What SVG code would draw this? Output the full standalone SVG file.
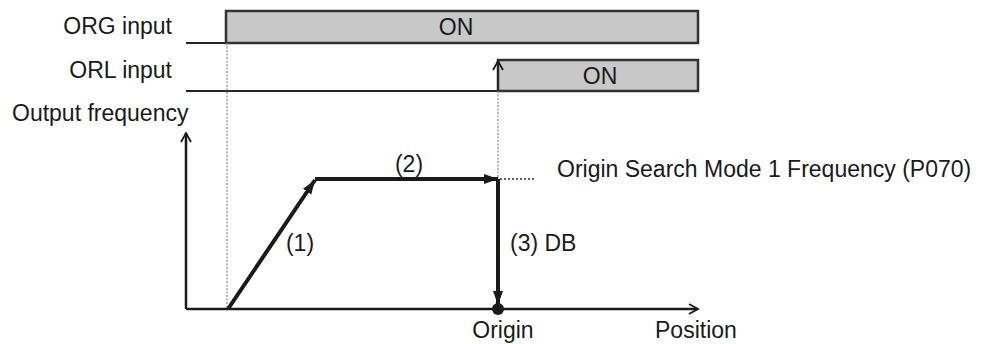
<svg xmlns="http://www.w3.org/2000/svg" width="990" height="344" viewBox="0 0 990 344">
<style>
text{font-family:"Liberation Sans",Arial,sans-serif;font-size:23px;fill:#1a1a1a}
.sig{fill:none;stroke:#262626;stroke-width:2}
.box{fill:#c8c8c8;stroke:#333;stroke-width:2.5}
.guide{fill:none;stroke:#8a8a8a;stroke-width:1.2;stroke-dasharray:2 1.5}
.guide2{fill:none;stroke:#333;stroke-width:1.5;stroke-dasharray:2 2}
.axis{fill:none;stroke:#1a1a1a;stroke-width:2.5}
.thick{fill:none;stroke:#1a1a1a;stroke-width:4}
</style>
<defs>
<marker id="open" markerWidth="12" markerHeight="12" refX="10" refY="6" orient="auto" markerUnits="userSpaceOnUse"><path d="M1,1 L10,6 L1,11" fill="none" stroke="#1a1a1a" stroke-width="1.8"/></marker>
<marker id="fill" markerWidth="16" markerHeight="12" refX="14" refY="6" orient="auto" markerUnits="userSpaceOnUse"><path d="M0,1 L14,6 L0,11 Z" fill="#1a1a1a"/></marker>
</defs>
<g id="labels">
<text x="172" y="34" text-anchor="end">ORG input</text>
<text x="172" y="78" text-anchor="end">ORL input</text>
<text x="12" y="121">Output frequency</text>
</g>
<g id="org-signal">
<path class="sig" d="M186,43 H226"/>
<rect class="box" x="226" y="11" width="472" height="32"/>
<text x="456" y="35" text-anchor="middle">ON</text>
</g>
<g id="orl-signal">
<path class="sig" d="M186,91 H498"/>
<rect class="box" x="498" y="60" width="200" height="31"/>
<text x="600" y="84" text-anchor="middle">ON</text>
</g>
<g id="connectors">
<path class="guide" d="M227,43 V309"/>
<path class="guide" d="M498,91 V179"/>
<path class="sig" d="M498,91 V61" marker-end="url(#open)"/>
<path class="axis" d="M186,309 V133" marker-end="url(#open)"/>
<path class="axis" d="M186,309 H698" marker-end="url(#open)"/>
<path class="thick" d="M228,309 L315,180" marker-end="url(#fill)"/>
<path class="thick" d="M315,179 H498" marker-end="url(#fill)"/>
<path class="thick" d="M498,179 V305" marker-end="url(#fill)"/>
<path class="guide2" d="M500,179 H536"/>
<circle cx="498" cy="309" r="6" fill="#1a1a1a"/>
</g>
<g id="annotations">
<text x="409" y="172" text-anchor="middle">(2)</text>
<text x="300" y="251" text-anchor="middle">(1)</text>
<text x="510" y="251">(3) DB</text>
<text x="557" y="177">Origin Search Mode 1 Frequency (P070)</text>
<text x="503" y="338" text-anchor="middle">Origin</text>
<text x="655" y="338">Position</text>
</g>
</svg>
